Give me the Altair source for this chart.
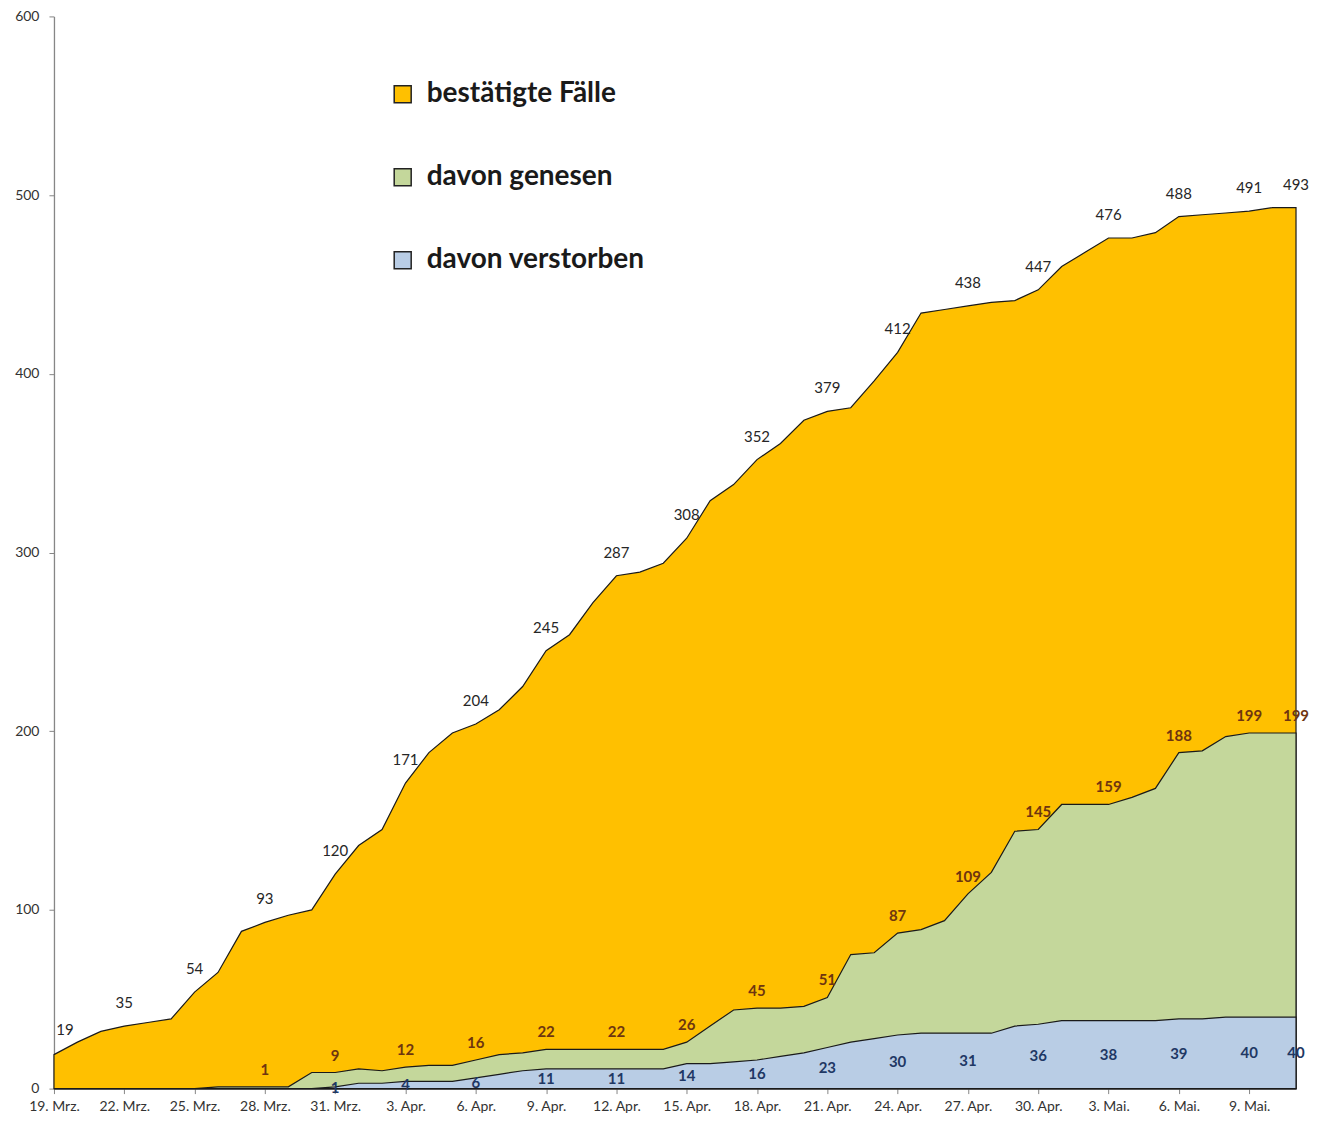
import json
import altair as alt
import pandas as pd

# ---------------- data ----------------
start_date = "2020-03-19"
end_date = "2020-05-11"
dates = pd.date_range(start_date, end_date, freq="D")

series_names = ["bestätigte Fälle", "davon genesen", "davon verstorben"]
series_colors = ["#FFC000", "#C4D79B", "#B9CDE5"]

confirmed = [19, 26, 32, 35, 37, 39, 54, 65, 88, 93,
             97, 100, 120, 136, 145, 171, 188, 199, 204, 212,
             225, 245, 254, 272, 287, 289, 294, 308, 329, 338,
             352, 361, 374, 379, 381, 396, 412, 434, 436, 438,
             440, 441, 447, 460, 468, 476, 476, 479, 488, 489,
             490, 491, 493, 493]
recovered = [0, 0, 0, 0, 0, 0, 0, 1, 1, 1,
             1, 9, 9, 11, 10, 12, 13, 13, 16, 19,
             20, 22, 22, 22, 22, 22, 22, 26, 35, 44,
             45, 45, 46, 51, 75, 76, 87, 89, 94, 109,
             121, 144, 145, 159, 159, 159, 163, 168, 188, 189,
             197, 199, 199, 199]
deceased = [0, 0, 0, 0, 0, 0, 0, 0, 0, 0,
            0, 0, 1, 3, 3, 4, 4, 4, 6, 8,
            10, 11, 11, 11, 11, 11, 11, 14, 14, 15,
            16, 18, 20, 23, 26, 28, 30, 31, 31, 31,
            31, 35, 36, 38, 38, 38, 38, 38, 39, 39,
            40, 40, 40, 40]

tick_labels = ["19. Mrz.", "22. Mrz.", "25. Mrz.", "28. Mrz.", "31. Mrz.",
               "3. Apr.", "6. Apr.", "9. Apr.", "12. Apr.", "15. Apr.",
               "18. Apr.", "21. Apr.", "24. Apr.", "27. Apr.", "30. Apr.",
               "3. Mai.", "6. Mai.", "9. Mai."]
y_ticks = [0, 100, 200, 300, 400, 500, 600]

# ---------------- table ----------------
n = len(dates)
rows = []
for name, vals in zip(series_names, [confirmed, recovered, deceased]):
    for i, (d, v) in enumerate(zip(dates, vals)):
        show = bool((i % 3 == 0 or i == n - 1) and v > 0)
        rows.append({"date": d.strftime("%Y-%m-%dT00:00:00"), "value": v,
                     "series": name, "show": show, "first": i == 0})
df = pd.DataFrame(rows)

tick_dates = [alt.DateTime(year=d.year, month=d.month, date=d.day) for d in dates[::3]]
first, last = dates[0], dates[-1]

label_expr = (json.dumps(tick_labels) +
              f"[round((datum.value - datetime({first.year},{first.month - 1},{first.day}))/259200000)]")

x_enc = alt.X("date:T",
              scale=alt.Scale(domain=[alt.DateTime(year=first.year, month=first.month, date=first.day),
                                      alt.DateTime(year=last.year, month=last.month, date=last.day)],
                              nice=False),
              axis=alt.Axis(values=tick_dates, labelExpr=label_expr, title=None, grid=False,
                            tickSize=5, labelPadding=6, labelFontSize=14, labelAngle=0,
                            labelOverlap=False, labelFlush=False, labelBound=False))
y_enc = alt.Y("value:Q", stack=None,
              scale=alt.Scale(domain=[0, 600], nice=False),
              axis=alt.Axis(values=y_ticks, title=None, grid=False, tickSize=5,
                            labelPadding=10, labelFontSize=14, labelOverlap=False,
                            labelFlush=False))
color_enc = alt.Color("series:N",
                      scale=alt.Scale(domain=series_names, range=series_colors),
                      legend=alt.Legend(title=None, orient="none", legendX=335, legendY=64,
                                        symbolType="square", symbolSize=289,
                                        symbolStrokeColor="#222222", symbolStrokeWidth=1.5,
                                        symbolOpacity=1, labelFontSize=28, labelFont="Lato",
                                        labelFontWeight="bold", labelColor="#1a1a1a",
                                        labelLimit=0, labelOffset=10, rowPadding=55, padding=0))

base = alt.Chart(df)

areas = [
    base.transform_filter(alt.datum.series == name)
    .mark_area(stroke="#1a1a1a", strokeWidth=1.2, opacity=1)
    .encode(x=x_enc, y=y_enc, color=color_enc)
    for name in series_names
]

conf_filter = (alt.datum.series == series_names[0]) & alt.datum.show
lbl_conf = (base.transform_filter(conf_filter & ~alt.datum.first)
            .mark_text(dy=-23, fontSize=15, font="Lato", color="#262626")
            .encode(x="date:T", y="value:Q", text="value:Q"))
lbl_conf_first = (base.transform_filter(conf_filter & alt.datum.first)
                  .mark_text(dy=-25, dx=11, fontSize=15, font="Lato", color="#262626")
                  .encode(x="date:T", y="value:Q", text="value:Q"))
lbl_rec = (base.transform_filter((alt.datum.series == series_names[1]) & alt.datum.show)
           .mark_text(dy=-17, fontSize=15, font="Lato", fontWeight="bold", color="#6e3510")
           .encode(x="date:T", y="value:Q", text="value:Q"))
lbl_dec = (base.transform_filter((alt.datum.series == series_names[2]) & alt.datum.show)
           .transform_calculate(half="datum.value / 2")
           .mark_text(fontSize=15, font="Lato", fontWeight="bold", color="#1f3864")
           .encode(x="date:T", y="half:Q", text="value:Q"))

chart = (alt.layer(*areas, lbl_conf, lbl_conf_first, lbl_rec, lbl_dec)
         .properties(width=1243, height=1073,
                     autosize=alt.AutoSizeParams(type="none"),
                     padding={"left": 46, "top": 8, "right": 20, "bottom": 25})
         .configure_view(stroke=None)
         .configure_axis(domainColor="#868686", tickColor="#868686", labelColor="#333333",
                         labelFont="Lato", domainWidth=1.3))

chart.save("out.html", embed_options={"renderer": "svg", "actions": False})
